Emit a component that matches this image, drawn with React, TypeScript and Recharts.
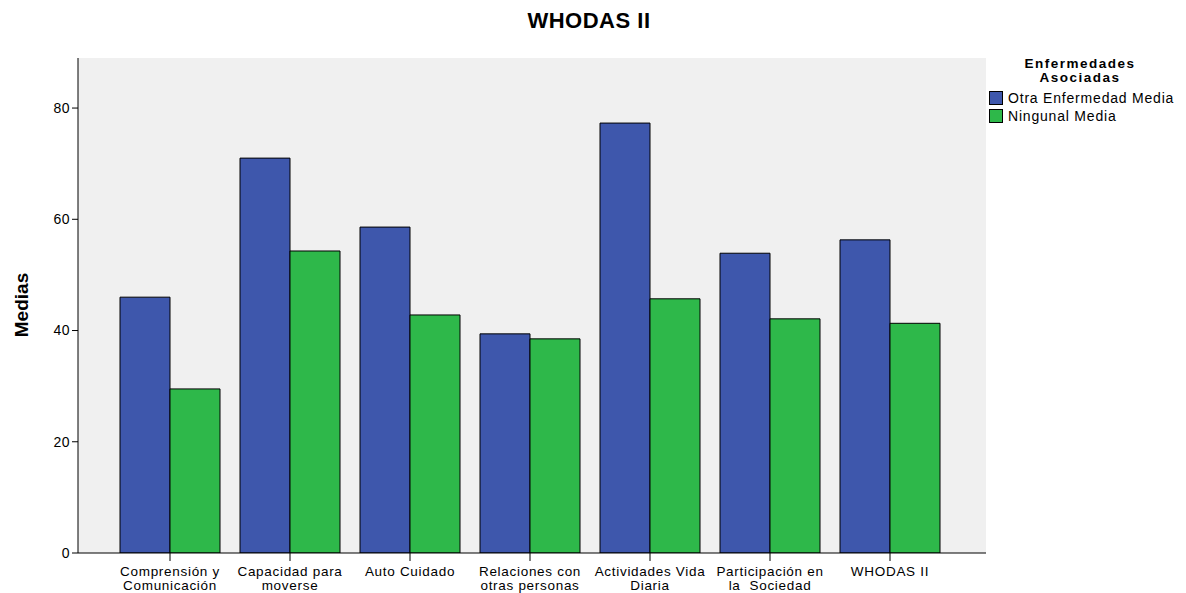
import React from "react";
import { BarChart, Bar, XAxis, YAxis, CartesianGrid } from "recharts";

const categories = [
  "Comprensión y\nComunicación",
  "Capacidad para\nmoverse",
  "Auto Cuidado",
  "Relaciones con\notras personas",
  "Actividades Vida\nDiaria",
  "Participación en\nla  Sociedad",
  "WHODAS II",
];
const otraEnfermedad = [46.0, 71.0, 58.6, 39.4, 77.3, 53.9, 56.3];
const ningunal = [29.5, 54.3, 42.8, 38.5, 45.7, 42.1, 41.3];
const yTicks = [0, 20, 40, 60, 80];
const seriesNames = ["Otra Enfermedad Media", "Ningunal Media"];
const seriesColors = ["#3E57AC", "#2EB84A"];
const legendTitle = ["Enfermedades", "Asociadas"];

const data = categories.map((c, i) => ({
  name: c,
  otra: otraEnfermedad[i],
  ning: ningunal[i],
}));

const FONT = "'Liberation Sans', Arial, sans-serif";

const XTick = (props: any) => {
  const { x, y, payload } = props;
  const lines = String(payload.value).split("\n");
  return (
    <g transform={`translate(${x},${y})`}>
      {lines.map((l, i) => (
        <text
          key={i}
          x={0}
          y={13 + i * 14}
          textAnchor="middle"
          fontSize={13.5}
          letterSpacing={0.7}
          fontFamily={FONT}
          fill="#000"
          style={{ whiteSpace: "pre" }}
        >
          {l}
        </text>
      ))}
    </g>
  );
};

export default function App() {
  return (
    <div style={{ position: "relative", width: 1186, height: 593, fontFamily: FONT, background: "#fff" }}>
      <style>{`body{margin:0}`}</style>
      <div
        style={{
          position: "absolute",
          top: 8,
          left: 0,
          width: 1178,
          textAlign: "center",
          fontWeight: "bold",
          fontSize: 22,
          letterSpacing: 0.5,
        }}
      >
        WHODAS II
      </div>
      <div
        style={{
          position: "absolute",
          left: 22,
          top: 305,
          transform: "translate(-50%,-50%) rotate(-90deg)",
          fontWeight: "bold",
          fontSize: 19,
          whiteSpace: "nowrap",
        }}
      >
        Medias
      </div>
      <div style={{ position: "absolute", left: 989, top: 57, color: "#000" }}>
        <div style={{ width: 182, marginBottom: 4 }}>
          {legendTitle.map((t, i) => (
            <div
              key={i}
              style={{
                fontWeight: "bold",
                fontSize: 13.5,
                textAlign: "center",
                lineHeight: "14px",
                height: 14,
                letterSpacing: 1.5,
              }}
            >
              {t}
            </div>
          ))}
        </div>
        {seriesNames.map((n, i) => (
          <div key={i} style={{ display: "flex", alignItems: "center", height: 18, fontSize: 14, letterSpacing: 0.8 }}>
            <span
              style={{
                display: "inline-block",
                width: 14,
                height: 14,
                boxSizing: "border-box",
                background: seriesColors[i],
                border: "1px solid #000",
                marginRight: 5,
              }}
            />
            {n}
          </div>
        ))}
      </div>
      <BarChart
        width={1186}
        height={593}
        data={data}
        margin={{ top: 58, right: 200, bottom: 0, left: 28 }}
        barGap={0}
        barSize={50}
      >
        <CartesianGrid horizontal={false} vertical={false} fill="#F0F0F0" />
        <XAxis
          dataKey="name"
          interval={0}
          padding={{ left: 32, right: 36 }}
          axisLine={{ stroke: "#000" }}
          tickLine={{ stroke: "#000" }}
          tickSize={8}
          tick={<XTick />}
          height={40}
        />
        <XAxis xAxisId="top" orientation="top" dataKey="name" tick={false} tickLine={false} axisLine={{ stroke: "#000" }} height={0} />
        <YAxis
          domain={[0, 89]}
          ticks={yTicks}
          allowDataOverflow
          width={50}
          axisLine={{ stroke: "#000" }}
          tickLine={{ stroke: "#000" }}
          tickSize={6}
          tick={{ fill: "#000", fontSize: 14, fontFamily: FONT, letterSpacing: 0.5 }}
        />
        <YAxis yAxisId="right" orientation="right" tick={false} tickLine={false} axisLine={{ stroke: "#000" }} width={0} />
        <Bar dataKey="otra" name={seriesNames[0]} fill={seriesColors[0]} stroke="#000" strokeWidth={1} isAnimationActive={false} />
        <Bar dataKey="ning" name={seriesNames[1]} fill={seriesColors[1]} stroke="#000" strokeWidth={1} isAnimationActive={false} />
      </BarChart>
    </div>
  );
}
